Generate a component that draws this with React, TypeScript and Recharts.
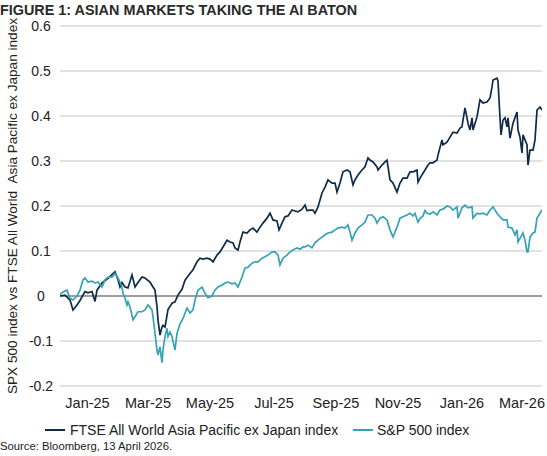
import { LineChart, Line, XAxis, YAxis, CartesianGrid, ReferenceLine } from "recharts";

// Relative performance (cumulative return).
// Each point is [day offset from start of series, value].
const ftseSeries: [number, number][] = [
  [0, 0], [5, 0.002], [10, -0.009], [13, -0.031], [17, -0.02], [20, -0.01], [25, 0.01], [28, 0.007],
  [32, 0.01], [35, -0.012], [37, 0.013], [42, 0.029], [48, 0.039], [53, 0.05], [55, 0.054], [58, 0.036],
  [60, 0.02], [62, 0.03], [65, 0.02], [68, 0.018], [72, 0.047], [75, 0.02], [78, 0.03], [82, 0.042],
  [85, 0.04], [90, 0.031], [93, 0.02], [95, 0.013], [97, -0.024], [98, -0.053], [100, -0.087], [102, -0.069],
  [103, -0.065], [105, -0.069], [108, -0.03], [112, -0.016], [115, -0.013], [118, 0.002], [122, 0.015],
  [125, 0.035], [130, 0.05], [133, 0.058], [137, 0.076], [140, 0.084], [143, 0.082], [147, 0.084],
  [150, 0.082], [153, 0.076], [157, 0.091], [160, 0.098], [163, 0.109], [167, 0.124], [170, 0.12],
  [173, 0.118], [175, 0.107], [178, 0.102], [180, 0.12], [183, 0.142], [187, 0.14], [190, 0.147],
  [193, 0.151], [197, 0.142], [200, 0.153], [203, 0.162], [207, 0.173], [210, 0.184], [213, 0.169],
  [217, 0.167], [219, 0.147], [222, 0.162], [225, 0.176], [228, 0.178], [232, 0.191], [235, 0.189],
  [238, 0.187], [242, 0.193], [245, 0.202], [247, 0.19], [250, 0.191], [253, 0.191], [255, 0.184],
  [258, 0.198], [262, 0.229], [265, 0.242], [268, 0.258], [272, 0.251], [275, 0.251], [277, 0.231],
  [280, 0.251], [283, 0.276], [287, 0.28], [290, 0.276], [293, 0.247], [295, 0.258], [298, 0.269],
  [302, 0.28], [305, 0.287], [308, 0.307], [310, 0.302], [313, 0.298], [317, 0.287], [318, 0.28],
  [322, 0.291], [325, 0.298], [327, 0.302], [330, 0.258], [333, 0.251], [337, 0.231], [340, 0.251],
  [343, 0.262], [347, 0.262], [350, 0.276], [353, 0.276], [357, 0.28], [358, 0.253], [360, 0.262],
  [365, 0.28], [368, 0.291], [370, 0.296], [373, 0.296], [377, 0.302], [378, 0.313], [382, 0.347],
  [383, 0.336], [387, 0.342], [390, 0.353], [393, 0.364], [397, 0.362], [400, 0.373], [402, 0.376],
  [403, 0.391], [405, 0.418], [407, 0.396], [408, 0.384], [410, 0.369], [412, 0.396], [413, 0.369],
  [417, 0.398], [420, 0.436], [423, 0.429], [427, 0.431], [430, 0.44], [432, 0.464], [433, 0.48],
  [437, 0.484], [438, 0.478], [440, 0.396], [441, 0.358], [443, 0.391], [445, 0.396], [447, 0.376],
  [448, 0.396], [450, 0.351], [453, 0.384], [457, 0.409], [458, 0.369], [460, 0.353], [462, 0.318],
  [463, 0.358], [467, 0.336], [468, 0.291], [470, 0.324], [473, 0.324], [475, 0.347], [477, 0.413],
  [480, 0.42], [482, 0.413],
];

const spxSeries: [number, number][] = [
  [0, 0.003], [3, 0.009], [7, 0.013], [10, -0.005], [13, -0.009], [17, 0], [20, 0.013], [23, 0.036],
  [25, 0.04], [28, 0.031], [32, 0.033], [35, 0.029], [38, 0.031], [42, 0.02], [45, 0.036], [48, 0.042],
  [52, 0.042], [55, 0.05], [58, 0.04], [62, 0.02], [63, 0.006], [65, -0.005], [67, -0.02], [68, -0.013],
  [70, -0.024], [73, -0.053], [75, -0.046], [78, -0.035], [82, -0.035], [85, -0.031], [88, -0.02],
  [92, -0.031], [93, -0.046], [95, -0.083], [97, -0.12], [98, -0.131], [100, -0.113], [102, -0.148],
  [103, -0.12], [105, -0.09], [107, -0.072], [108, -0.09], [110, -0.08], [112, -0.09], [115, -0.12],
  [117, -0.083], [120, -0.062], [123, -0.05], [127, -0.027], [130, -0.038], [133, -0.031], [135, -0.009],
  [138, 0.013], [142, 0.02], [145, 0.006], [148, -0.004], [152, 0], [155, 0.013], [158, 0.02],
  [162, 0.024], [165, 0.029], [168, 0.031], [172, 0.027], [175, 0.029], [178, 0.02], [182, 0.042],
  [185, 0.062], [188, 0.064], [192, 0.073], [195, 0.076], [198, 0.076], [202, 0.084], [205, 0.087],
  [208, 0.091], [212, 0.098], [215, 0.098], [218, 0.091], [220, 0.069], [223, 0.084], [227, 0.091],
  [230, 0.098], [233, 0.102], [237, 0.107], [240, 0.104], [243, 0.109], [245, 0.109], [248, 0.113],
  [252, 0.107], [255, 0.118], [258, 0.124], [262, 0.131], [265, 0.136], [268, 0.14], [272, 0.142],
  [275, 0.147], [278, 0.151], [282, 0.153], [285, 0.151], [288, 0.158], [290, 0.142], [292, 0.124],
  [295, 0.14], [298, 0.151], [302, 0.158], [305, 0.164], [308, 0.18], [312, 0.18], [315, 0.173],
  [317, 0.162], [320, 0.173], [323, 0.176], [327, 0.169], [330, 0.147], [333, 0.131], [337, 0.153],
  [340, 0.173], [343, 0.176], [347, 0.18], [350, 0.184], [353, 0.178], [355, 0.184], [358, 0.164],
  [360, 0.172], [363, 0.178], [365, 0.19], [367, 0.184], [370, 0.182], [373, 0.187], [377, 0.18],
  [380, 0.191], [383, 0.193], [387, 0.2], [390, 0.198], [393, 0.191], [397, 0.198], [398, 0.173],
  [402, 0.196], [405, 0.202], [408, 0.196], [412, 0.198], [413, 0.173], [417, 0.184], [420, 0.182],
  [423, 0.184], [427, 0.18], [430, 0.191], [433, 0.198], [437, 0.184], [440, 0.176], [443, 0.169],
  [447, 0.169], [448, 0.153], [452, 0.151], [455, 0.136], [457, 0.147], [458, 0.12], [462, 0.136],
  [463, 0.14], [465, 0.124], [467, 0.098], [468, 0.098], [470, 0.131], [473, 0.14], [475, 0.142],
  [477, 0.173], [480, 0.184], [482, 0.191],
];

const tickDays = [27.5, 88, 150, 214, 276, 338, 402, 462];
const tickLabels = ["Jan-25", "Mar-25", "May-25", "Jul-25", "Sep-25", "Nov-25", "Jan-26", "Mar-26"];
const yTicks = [-0.2, -0.1, 0, 0.1, 0.2, 0.3, 0.4, 0.5, 0.6];

const FONT = '"Liberation Sans", Arial, sans-serif';
const NAVY = "#0f2b48";
const TEAL = "#35a2b6";
const TEXT = "#222";

const ftseData = ftseSeries.map(([day, value]) => ({ day, value }));
const spxData = spxSeries.map(([day, value]) => ({ day, value }));

function XTick({ x, y, payload }: any) {
  const i = tickDays.indexOf(payload.value);
  return (
    <text x={x} y={y} dy={22} textAnchor="middle" fontSize={14.5} fill={TEXT} fontFamily={FONT}>
      {tickLabels[i] ?? ""}
    </text>
  );
}

function YTick({ x, y, payload }: any) {
  const v = payload.value;
  const label = v === 0 ? "0" : String(v);
  return (
    <text x={x - 19} y={y} dy={5} textAnchor="middle" fontSize={14} fill={TEXT} fontFamily={FONT}>
      {label}
    </text>
  );
}

export default function App() {
  return (
    <div
      style={{
        position: "absolute",
        left: 0,
        top: 0,
        width: 547,
        height: 456,
        background: "#fff",
        fontFamily: FONT,
        color: TEXT,
        overflow: "hidden",
      }}
    >
      <div style={{ position: "absolute", left: 0, top: 2, fontSize: 14.4, fontWeight: 700, color: "#2a2a2a", whiteSpace: "nowrap" }}>
        FIGURE 1: ASIAN MARKETS TAKING THE AI BATON
      </div>

      <LineChart width={547} height={456} margin={{ top: 26, right: 5, bottom: 0, left: 0 }}>
        <CartesianGrid horizontal vertical={false} stroke="#d9d9d9" strokeWidth={1.5} />
        <XAxis
          type="number"
          dataKey="day"
          domain={[0, 482]}
          ticks={tickDays}
          tick={<XTick />}
          axisLine={false}
          tickLine={false}
          tickSize={0}
          tickMargin={0}
          height={70}
          allowDataOverflow
        />
        <YAxis
          type="number"
          domain={[-0.2, 0.6]}
          ticks={yTicks}
          tick={<YTick />}
          axisLine={false}
          tickLine={false}
          tickSize={0}
          tickMargin={0}
          width={60}
          label={{
            value: "SPX 500 index vs FTSE All World\u00a0\u00a0Asia Pacific ex Japan index",
            angle: -90,
            position: "insideLeft",
            offset: 12,
            style: { textAnchor: "middle", fontSize: 13.6, fill: TEXT, fontFamily: FONT },
          }}
        />
        <ReferenceLine y={0} stroke="#5a5a5a" strokeWidth={1.2} />
        <Line
          data={ftseData}
          dataKey="value"
          type="linear"
          stroke={NAVY}
          strokeWidth={1.7}
          dot={false}
          isAnimationActive={false}
        />
        <Line
          data={spxData}
          dataKey="value"
          type="linear"
          stroke={TEAL}
          strokeWidth={1.7}
          dot={false}
          isAnimationActive={false}
        />
      </LineChart>

      <div style={{ position: "absolute", left: 45, top: 429, width: 20, height: 2, background: NAVY }} />
      <div style={{ position: "absolute", left: 70, top: 422, fontSize: 14, whiteSpace: "nowrap" }}>
        FTSE All World Asia Pacific ex Japan index
      </div>
      <div style={{ position: "absolute", left: 353, top: 429, width: 20, height: 2, background: TEAL }} />
      <div style={{ position: "absolute", left: 377, top: 422, fontSize: 14, whiteSpace: "nowrap" }}>
        S&amp;P 500 index
      </div>

      <div style={{ position: "absolute", left: 0, top: 440, fontSize: 11.3, whiteSpace: "nowrap" }}>
        Source: Bloomberg, 13 April 2026.
      </div>
    </div>
  );
}
